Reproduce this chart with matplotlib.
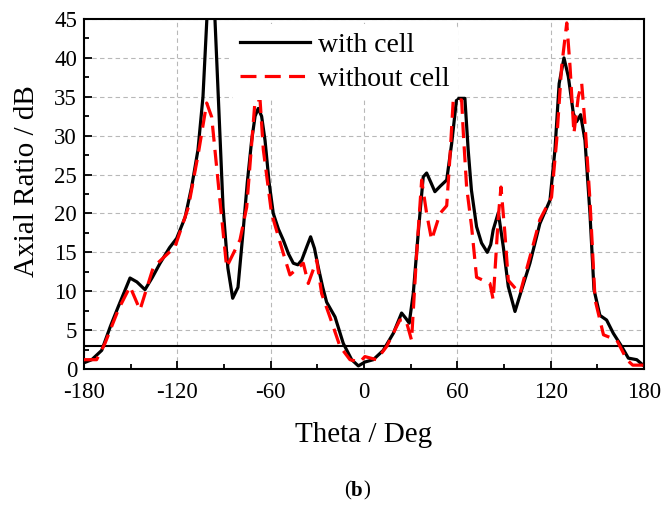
import numpy as np
import matplotlib
matplotlib.use('Agg')
import matplotlib.pyplot as plt

plt.rcParams['font.family'] = ['Liberation Serif', 'DejaVu Serif']

# Axial ratio with the cell (black, solid)
theta_cell = [-180, -175, -168.6, -163, -158, -150.4, -146, -140.8, -136, -131.1, -125,
              -120.4, -115, -110.8, -106.7, -103.5, -101, -98.5, -95.8, -93, -90.6, -87.5,
              -84.4, -81, -77.8, -75, -72.2, -70, -68, -65.8, -63.6, -61, -58.3, -55,
              -51.9, -48.5, -45.4, -42.5, -40, -37, -34.3, -31.8, -29.4, -26.5, -24,
              -18.6, -13.3, -7.9, -3.6, 0.6, 6, 12.4, 18.9, 24.2, 27, 29.1, 31.7, 34.9,
              38.1, 40.3, 43, 45.6, 49, 53.2, 56.4, 59.6, 62, 64.9, 67, 69.1, 72.4, 75.6,
              79.3, 81.5, 83.1, 86.4, 89.6, 92.8, 97.1, 101.4, 106.7, 113.1, 119.6, 122.8,
              125.5, 128.6, 131.4, 134.6, 136.7, 139.3, 142.1, 145.3, 147.9, 151.7, 156,
              160.3, 165.7, 170, 175.4, 180]
ar_cell = [0.8, 1.2, 2.4, 5.5, 8.0, 11.7, 11.2, 10.2, 11.8, 13.6, 15.6,
           16.8, 19.5, 23.4, 28.2, 35.0, 45.0, 52.0, 45.0, 32.0, 20.8, 13.0,
           9.1, 10.5, 17.5, 24.0, 29.4, 32.5, 33.5, 32.5, 29.4, 24.0, 20.0, 18.0,
           16.6, 14.8, 13.6, 13.4, 14.0, 15.6, 17.0, 15.5, 13.1, 10.5, 8.6,
           6.7, 3.3, 1.2, 0.4, 0.9, 1.2, 2.4, 4.6, 7.2, 6.5, 5.9, 9.7, 17.5,
           24.7, 25.2, 24.0, 22.8, 23.5, 24.3, 29.0, 34.8, 34.8, 34.8, 28.2, 23.0, 18.3, 16.2,
           15.0, 16.0, 17.9, 20.1, 15.7, 10.6, 7.4, 10.2, 13.6, 18.7, 21.7, 28.2,
           36.7, 40.0, 37.6, 32.9, 31.8, 32.7, 29.4, 20.0, 10.2, 6.9, 6.3,
           4.6, 2.9, 1.4, 1.2, 0.4]

# Axial ratio without the cell (red, dashed)
theta_nocell = [-180, -171.9, -166.5, -158, -150.4, -144, -135.4, -121.5, -112.9, -106.5,
                -101.1, -97.9, -92.6, -88.3, -79.7, -75.4, -70, -66.8, -64.7, -59.4,
                -51.9, -47.6, -39, -35.8, -30.4, -27.2, -21.9, -15.4, -9, -2.6, 0.6, 8.1,
                14.6, 23.1, 27, 30.6, 33.9, 37.1, 40.3, 43.5, 48.9, 53.2, 55.3, 57.4, 62.8,
                63.9, 66, 69.2, 72.4, 81, 83.1, 86.4, 88.1, 90.6, 92.8, 100.3, 106.7,
                113.1, 120.6, 123.9, 127.1, 130.4, 132.5, 135, 137.8, 140, 142.1, 145.3,
                148.6, 154, 162.6, 169, 172.8, 180]
ar_nocell = [1.2, 1.2, 3.3, 7.6, 10.6, 7.6, 13.1, 15.7, 20.8, 27.7,
             34.2, 32.4, 21.7, 13.1, 16.6, 20.8, 34.6, 34.6, 28.2, 20.0,
             14.9, 12.1, 13.6, 11.0, 14.0, 9.7, 6.7, 2.9, 1.2, 0.9, 1.6, 1.2,
             2.9, 6.3, 6.3, 3.7, 14.9, 24.3, 20.0, 16.6, 20.0, 21.0, 27.3, 34.6, 34.6,
             30.3, 23.4, 18.3, 11.8, 11.0, 8.9, 19.6, 23.4, 17.5, 11.4, 9.7, 14.4,
             19.2, 22.1, 29.4, 38.9, 44.5, 38.9, 30.3, 35.0, 36.7, 31.6, 21.7,
             8.9, 4.4, 3.7, 1.2, 0.5, 0.5]

threshold = 3

x_ticks = [-180, -120, -60, 0, 60, 120, 180]
y_ticks = [0, 5, 10, 15, 20, 25, 30, 35, 40, 45]

fig = plt.figure(figsize=(6.65, 5.21), dpi=100)
ax = fig.add_axes([0.1263, 0.2917, 0.842, 0.6718])

ax.plot(theta_cell, ar_cell, color='black', lw=2.3, label='with cell', zorder=3)
ax.plot(theta_nocell, ar_nocell, color='#ff0000', lw=2.3, ls=(0, (5, 2.6)),
        label='without cell', zorder=4)
ax.axhline(threshold, color='black', lw=1.5, zorder=2)

ax.set_xlim(-180, 180)
ax.set_ylim(0, 45)
ax.set_xticks(x_ticks)
ax.set_xticklabels([str(t) for t in x_ticks])
ax.set_yticks(y_ticks)
ax.set_xticks(np.arange(-150, 180, 60), minor=True)
ax.set_yticks(np.arange(2.5, 45, 5), minor=True)
ax.tick_params(which='both', direction='in', labelsize=16.5, width=1.3)
ax.tick_params(which='major', length=6)
ax.tick_params(which='minor', length=3.5)
ax.tick_params(axis='x', pad=9)
ax.tick_params(axis='y', pad=5)
for s in ax.spines.values():
    s.set_linewidth(1.5)

ax.grid(True, which='major', color='#b8b8b8', ls=(0, (4, 3)), lw=0.8)
ax.set_axisbelow(True)

ax.set_xlabel('Theta / Deg', fontsize=21, labelpad=14)
ax.set_ylabel('Axial Ratio / dB', fontsize=21)
ax.yaxis.set_label_coords(-0.078, 0.537)

leg = ax.legend(loc='upper left', bbox_to_anchor=(0.264, 0.985), fontsize=20,
                frameon=True, handlelength=2.5, handletextpad=0.3, labelspacing=0.3,
                borderpad=0.3, borderaxespad=0)
leg.get_frame().set_edgecolor('none')
leg.get_frame().set_facecolor('white')
leg.get_frame().set_alpha(1)
leg.set_zorder(5)

fig.text(0.5365, 0.058, 'b', fontsize=15, fontweight='bold', ha='center', va='center')
fig.text(0.5365 - 0.0085, 0.058, '(', fontsize=15, ha='right', va='center')
fig.text(0.5365 + 0.0095, 0.058, ')', fontsize=15, ha='left', va='center')

fig.savefig('out.png', dpi=100)
